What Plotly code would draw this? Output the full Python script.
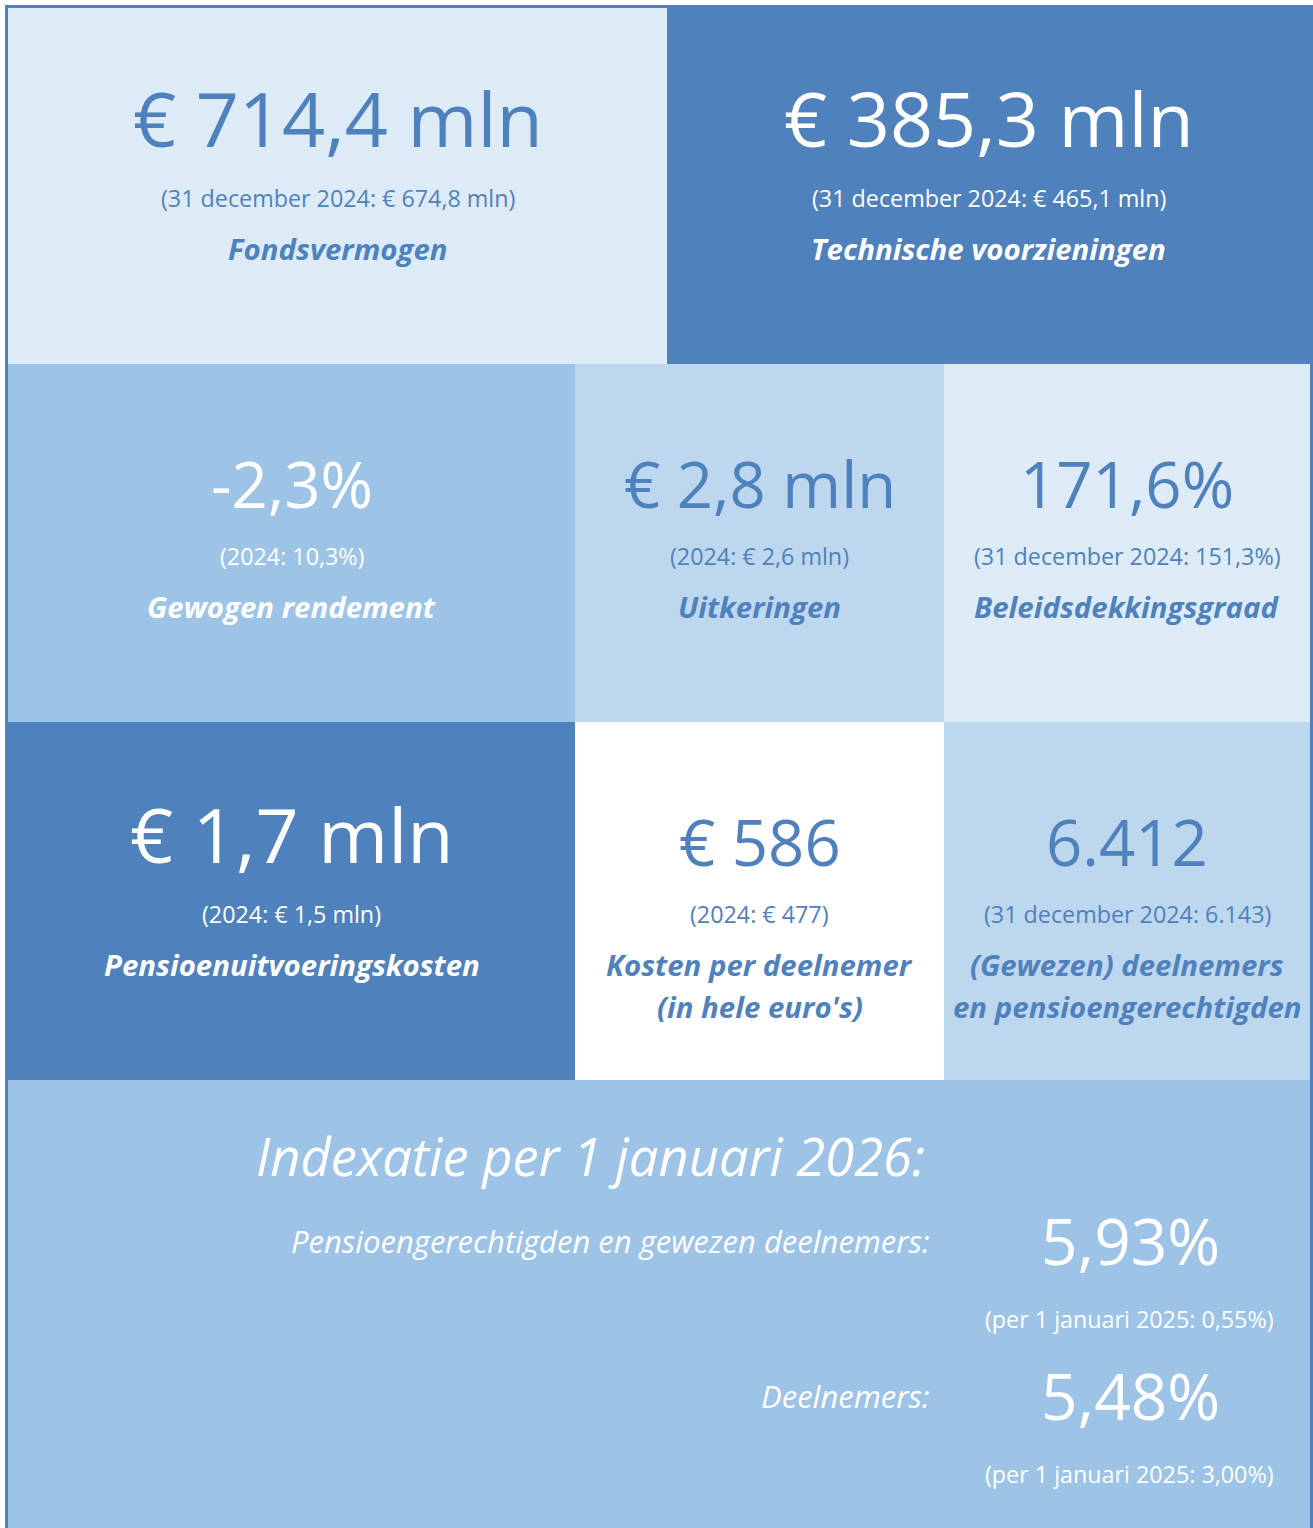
import plotly.graph_objects as go

# ---- data ----
kpi_values = ["€ 714,4 mln", "€ 385,3 mln", "-2,3%", "€ 2,8 mln", "171,6%",
              "€ 1,7 mln", "€ 586", "6.412"]
kpi_previous = ["(31 december 2024: € 674,8 mln)", "(31 december 2024: € 465,1 mln)",
                "(2024: 10,3%)", "(2024: € 2,6 mln)", "(31 december 2024: 151,3%)",
                "(2024: € 1,5 mln)", "(2024: € 477)", "(31 december 2024: 6.143)"]
kpi_labels = [["Fondsvermogen"], ["Technische voorzieningen"], ["Gewogen rendement"],
              ["Uitkeringen"], ["Beleidsdekkingsgraad"], ["Pensioenuitvoeringskosten"],
              ["Kosten per deelnemer", "(in hele euro's)"],
              ["(Gewezen) deelnemers", "en pensioengerechtigden"]]
index_title = "Indexatie per 1 januari 2026:"
index_groups = ["Pensioengerechtigden en gewezen deelnemers:", "Deelnemers:"]
index_values = ["5,93%", "5,48%"]
index_previous = ["(per 1 januari 2025: 0,55%)", "(per 1 januari 2025: 3,00%)"]

# ---- styling / layout ----
DARK = "#4F81BD"
MED = "#9DC3E6"
LMED = "#BDD7EE"
LIGHT = "#DDEBF7"
WHITE = "#FFFFFF"
FONT = "'Open Sans', Lato, sans-serif"

W, H = 1313, 1528
# tiles: x0, x1, y0, y1, fill, text colour, value size
tiles = [
    (8, 667, 8, 364, LIGHT, DARK, 75.5),
    (667, 1310, 8, 364, DARK, WHITE, 75.5),
    (8, 575, 364, 722, MED, WHITE, 63.5),
    (575, 944, 364, 722, LMED, DARK, 63.5),
    (944, 1310, 364, 722, LIGHT, DARK, 63.5),
    (8, 575, 722, 1080, DARK, WHITE, 75.5),
    (575, 944, 722, 1080, WHITE, DARK, 63.5),
    (944, 1310, 722, 1080, LMED, DARK, 63.5),
]
value_y = [117, 117, 483, 483, 483, 833, 841, 841]
prev_y = [198, 198, 556, 556, 556, 914, 914, 914]
label_y = [249, 249, 607, 607, 607, 965, 965, 965]
LINE_GAP = 42

fig = go.Figure()
shapes = []
annotations = []


def txt(x, y, text, size, color, xanchor="center", **fkw):
    annotations.append(dict(x=x, y=y, text=text, showarrow=False, xref="x", yref="y",
                            xanchor=xanchor, yanchor="middle",
                            font=dict(family=FONT, size=size, color=color, **fkw)))


for i, (x0, x1, y0, y1, fill, tc, vs) in enumerate(tiles):
    shapes.append(dict(type="rect", xref="x", yref="y", x0=x0, x1=x1, y0=y0, y1=y1,
                       fillcolor=fill, line=dict(width=0), layer="below"))
    cx = (x0 + x1) / 2
    txt(cx, value_y[i], kpi_values[i], vs, tc)
    txt(cx, prev_y[i], kpi_previous[i], 23.3, tc)
    for j, line in enumerate(kpi_labels[i]):
        txt(cx, label_y[i] + j * LINE_GAP, line, 29.4, tc, weight="bold", style="italic")

# bottom section
shapes.append(dict(type="rect", xref="x", yref="y", x0=8, x1=1310, y0=1080, y1=1528,
                   fillcolor=MED, line=dict(width=0), layer="below"))
# outer frame
shapes.append(dict(type="rect", xref="x", yref="y", x0=6.5, x1=1311.5, y0=6.5, y1=1540,
                   fillcolor="rgba(0,0,0,0)", line=dict(color=DARK, width=3)))

txt(590, 1155, index_title, 52.5, WHITE, style="italic")
group_y = [1241, 1396]
ival_y = [1240, 1395]
iprev_y = [1319, 1474]
for k in range(2):
    txt(932, group_y[k], index_groups[k], 31, WHITE, xanchor="right", style="italic")
    txt(1130, ival_y[k], index_values[k], 64, WHITE)
    txt(1129, iprev_y[k], index_previous[k], 23.3, WHITE)

fig.update_layout(
    width=W, height=H, margin=dict(l=0, r=0, t=0, b=0),
    paper_bgcolor="white", plot_bgcolor="white",
    xaxis=dict(range=[0, W], visible=False, fixedrange=True),
    yaxis=dict(range=[H, 0], visible=False, fixedrange=True),
    shapes=shapes, annotations=annotations, showlegend=False,
)
fig.write_html("out.html", config={"displayModeBar": False},
               post_script="document.body.style.margin='0';document.body.style.overflow='hidden';")
